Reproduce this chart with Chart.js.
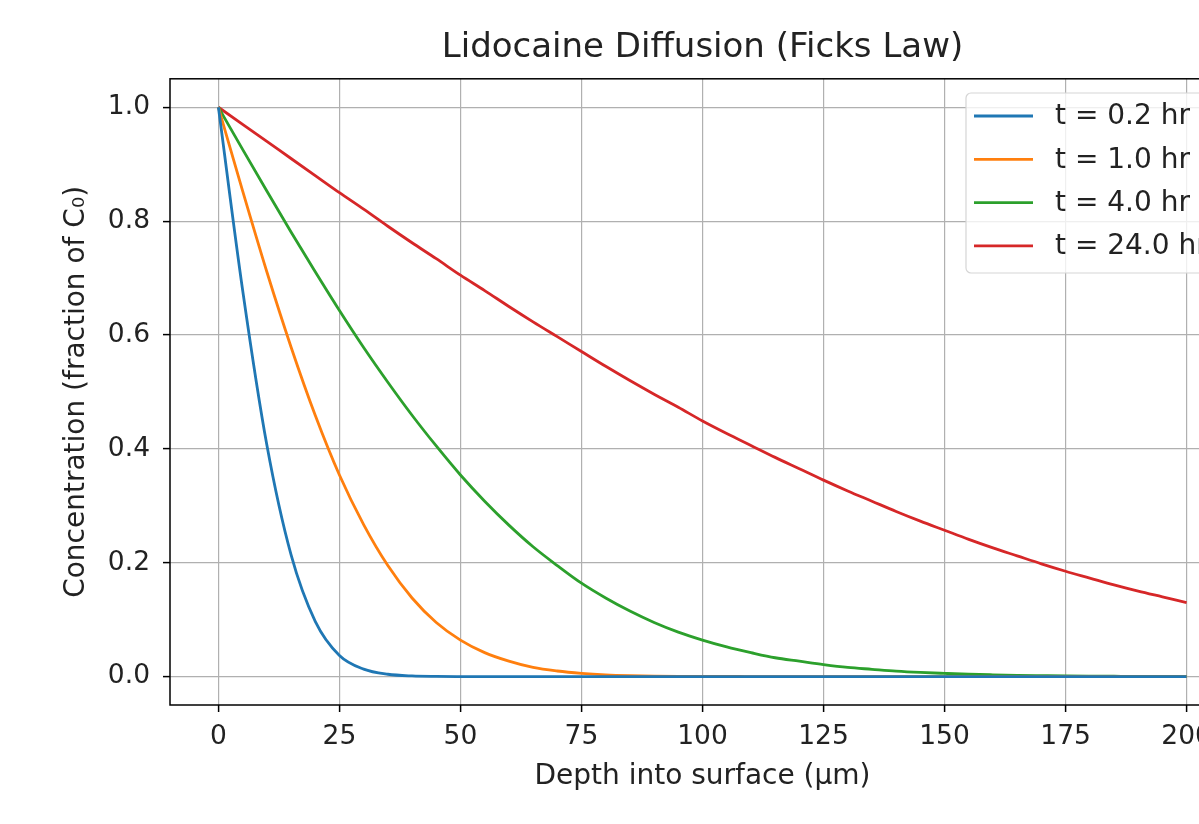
<!DOCTYPE html>
<html lang="en">

<head>
    <meta charset="UTF-8">
    <title>Lidocaine Diffusion</title>
    <script src="https://cdn.jsdelivr.net/npm/chart.js"></script>
    <style>
        body { margin: 0; background: #fff; overflow: hidden; }
    </style>
</head>

<body>
    <canvas id="difusaoChart" width="1260" height="824"></canvas>
</body>

</html>

<script>
    // depth into surface (um), every 5 um
    var profundidade = [0, 5, 10, 15, 20, 25, 30, 35, 40, 45, 50, 55, 60, 65, 70, 75, 80, 85, 90, 95, 100,
        105, 110, 115, 120, 125, 130, 135, 140, 145, 150, 155, 160, 165, 170, 175, 180, 185, 190, 195, 200];

    var t02 = [1.000, 0.679, 0.407, 0.214, 0.097, 0.037, 0.013, 0.004, 0.001, 0.0002, 0, 0, 0, 0, 0, 0, 0, 0, 0, 0, 0,
        0, 0, 0, 0, 0, 0, 0, 0, 0, 0, 0, 0, 0, 0, 0, 0, 0, 0, 0, 0];
    var t10 = [1.000, 0.853, 0.711, 0.579, 0.459, 0.354, 0.267, 0.195, 0.138, 0.095, 0.064, 0.042, 0.027, 0.016, 0.0097, 0.0056, 0.003, 0.0016, 0.0008, 0.0004, 0.0002,
        0.0001, 0, 0, 0, 0, 0, 0, 0, 0, 0, 0, 0, 0, 0, 0, 0, 0, 0, 0, 0];
    var t40 = [1.000, 0.926, 0.853, 0.781, 0.711, 0.643, 0.578, 0.517, 0.459, 0.405, 0.354, 0.308, 0.266, 0.228, 0.195, 0.164, 0.138, 0.115, 0.095, 0.078, 0.064,
        0.052, 0.042, 0.033, 0.027, 0.021, 0.016, 0.0127, 0.0095, 0.0072, 0.0055, 0.004, 0.003, 0.0022, 0.0016, 0.0011, 0.0008, 0.0005, 0.0003, 0.0002, 0.0001];
    var t240 = [1.000, 0.970, 0.940, 0.910, 0.880, 0.850, 0.821, 0.791, 0.762, 0.734, 0.705, 0.678, 0.650, 0.623, 0.597, 0.571, 0.545, 0.520, 0.496, 0.473, 0.449,
        0.427, 0.406, 0.385, 0.365, 0.345, 0.326, 0.308, 0.290, 0.273, 0.257, 0.241, 0.226, 0.212, 0.198, 0.185, 0.173, 0.161, 0.150, 0.140, 0.130];

    var rotulos = ["t = 0.2 hr", "t = 1.0 hr", "t = 4.0 hr", "t = 24.0 hr"];
    var cores = ["#1f77b4", "#ff7f0e", "#2ca02c", "#d62728"];
    var ticksX = [0, 25, 50, 75, 100, 125, 150, 175, 200];
    var ticksY = [0.0, 0.2, 0.4, 0.6, 0.8, 1.0];

    var fonte = "'DejaVu Sans', sans-serif";

    function pontos(serie) {
        var lista = [];
        for (var i = 0; i < profundidade.length; i++) {
            lista.push({ x: profundidade[i], y: serie[i] });
        }
        return lista;
    }

    var series = [t02, t10, t40, t240];
    var datasets = [];
    for (var i = 0; i < series.length; i++) {
        datasets.push({
            label: rotulos[i],
            data: pontos(series[i]),
            borderColor: cores[i],
            backgroundColor: cores[i],
            borderWidth: 2.8,
            pointRadius: 0,
            cubicInterpolationMode: "monotone",
            fill: false
        });
    }

    // frame + matplotlib style legend in the upper right
    var molduraLegenda = {
        id: "molduraLegenda",
        afterDraw: function (chart) {
            var ctx = chart.ctx;
            var area = chart.chartArea;
            ctx.save();
            ctx.strokeStyle = "#000";
            ctx.lineWidth = 1.5;
            ctx.strokeRect(area.left, area.top, area.right - area.left, area.bottom - area.top);

            var x0 = 966, y0 = 93, w = 260, h = 180, r = 5;
            ctx.beginPath();
            ctx.moveTo(x0 + r, y0);
            ctx.arcTo(x0 + w, y0, x0 + w, y0 + h, r);
            ctx.arcTo(x0 + w, y0 + h, x0, y0 + h, r);
            ctx.arcTo(x0, y0 + h, x0, y0, r);
            ctx.arcTo(x0, y0, x0 + w, y0, r);
            ctx.closePath();
            ctx.fillStyle = "rgba(255,255,255,0.8)";
            ctx.fill();
            ctx.strokeStyle = "#d5d5d5";
            ctx.lineWidth = 1.2;
            ctx.stroke();

            ctx.font = "28px " + fonte;
            ctx.textBaseline = "middle";
            chart.data.datasets.forEach(function (ds, k) {
                var yy = 116 + k * 43.3;
                ctx.strokeStyle = ds.borderColor;
                ctx.lineWidth = 2.8;
                ctx.beginPath();
                ctx.moveTo(974, yy);
                ctx.lineTo(1033, yy);
                ctx.stroke();
                ctx.fillStyle = "#222";
                ctx.fillText(ds.label, 1055, yy + 1);
            });
            ctx.restore();
        }
    };

    new Chart(document.getElementById("difusaoChart"), {
        type: "line",
        data: { datasets: datasets },
        options: {
            responsive: false,
            animation: false,
            layout: { padding: { left: 0, right: 25, top: 0, bottom: 0 } },
            plugins: {
                legend: { display: false },
                tooltip: { enabled: false },
                title: {
                    display: true,
                    fullSize: false,
                    text: "Lidocaine Diffusion (Ficks Law)",
                    color: "#222",
                    font: { family: fonte, size: 34, weight: "normal", lineHeight: 1.2 },
                    padding: { top: 28, bottom: 10 }
                }
            },
            scales: {
                x: {
                    type: "linear",
                    min: -10,
                    max: 210,
                    afterBuildTicks: function (s) {
                        s.ticks = ticksX.map(function (v) { return { value: v }; });
                    },
                    afterFit: function (s) { s.height = 119; },
                    grid: { color: "#b0b0b0", lineWidth: 1.2, tickLength: 7, tickColor: "#000", tickWidth: 1.5 },
                    border: { display: false },
                    ticks: {
                        color: "#222",
                        font: { family: fonte, size: 26.5 },
                        padding: 9,
                        maxRotation: 0,
                        callback: function (v) { return v; }
                    },
                    title: {
                        display: true,
                        text: "Depth into surface (µm)",
                        color: "#222",
                        font: { family: fonte, size: 28, lineHeight: 1.2 },
                        padding: { top: 0, bottom: 30 }
                    }
                },
                y: {
                    min: -0.05,
                    max: 1.05,
                    afterBuildTicks: function (s) {
                        s.ticks = ticksY.map(function (v) { return { value: v }; });
                    },
                    afterFit: function (s) { s.width = 170; },
                    grid: { color: "#b0b0b0", lineWidth: 1.2, tickLength: 7, tickColor: "#000", tickWidth: 1.5 },
                    border: { display: false },
                    ticks: {
                        color: "#222",
                        font: { family: fonte, size: 26.5 },
                        padding: 13,
                        callback: function (v) { return Number(v).toFixed(1); }
                    },
                    title: {
                        display: true,
                        text: "Concentration (fraction of C₀)",
                        color: "#222",
                        font: { family: fonte, size: 28, lineHeight: 1.2 },
                        padding: { top: 60, bottom: 0 }
                    }
                }
            }
        },
        plugins: [molduraLegenda]
    });
</script>
